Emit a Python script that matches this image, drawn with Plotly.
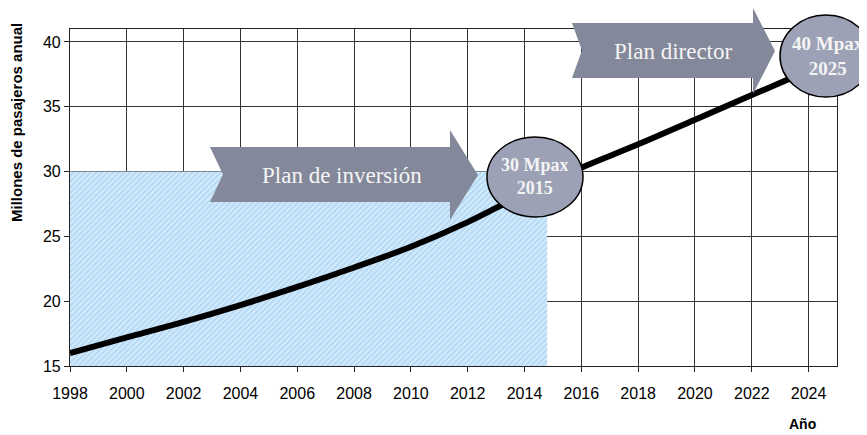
import plotly.graph_objects as go

# ---- data ----
years = [1998, 2000, 2002, 2004, 2006, 2008, 2010, 2012, 2014, 2016, 2018, 2020, 2022, 2024]
passengers = [16.0, 17.2, 18.4, 19.7, 21.1, 22.6, 24.2, 26.1, 28.3, 30.3, 32.1, 34.0, 35.9, 37.8]

area_x = [1998, 1998, 2014.8, 2014.8]
area_y = [15, 30, 30, 15]

x_ticks = list(range(1998, 2025, 2))
y_ticks = [15, 20, 25, 30, 35, 40]

W, H = 867, 435
# plot area in window pixels (page has an 8px body offset)
PL, PR, PT, PB = 70, 837, 29, 366
OFF = 8


def px(x):
    return (x - PL) / (PR - PL)


def py(y):
    return (PB - y) / (PB - PT)


def path(points):
    return "M " + " L ".join(f"{px(a):.4f},{py(b):.4f}" for a, b in points) + " Z"


fig = go.Figure()

fig.add_trace(go.Scatter(
    x=area_x, y=area_y, fill="toself", mode="none",
    fillcolor="#c4e2f8",
    fillpattern=dict(shape="/", fgcolor="#79bbec", bgcolor="#d2e9fa", size=4, solidity=0.3),
    hoverinfo="skip", showlegend=False))

fig.add_trace(go.Scatter(
    x=years, y=passengers, mode="lines",
    line=dict(color="black", width=6, shape="spline"),
    showlegend=False))

arrow_color = "#83889a"
ell_color = "#9ca1b5"

shapes = [
    dict(type="path", xref="paper", yref="paper", layer="above",
         path=path([(210, 147), (450, 147), (450, 130), (478, 175), (450, 220),
                    (450, 202), (210, 202), (223, 174.5)]),
         fillcolor=arrow_color, line=dict(width=0)),
    dict(type="path", xref="paper", yref="paper", layer="above",
         path=path([(572, 23), (753, 23), (753, 8), (775, 51), (753, 94),
                    (753, 78), (572, 78), (582, 50.5)]),
         fillcolor=arrow_color, line=dict(width=0)),
    dict(type="circle", xref="paper", yref="paper", layer="above",
         x0=px(487), x1=px(583), y0=py(217), y1=py(137),
         fillcolor=ell_color, line=dict(color="black", width=1.5)),
    dict(type="circle", xref="paper", yref="paper", layer="above",
         x0=px(780), x1=px(872), y0=py(97), y1=py(15),
         fillcolor=ell_color, line=dict(color="black", width=1.5)),
]

serif = "Liberation Serif"
txt = "#f4f4f4"


def ann(x, y, text, font, **kw):
    d = dict(x=px(x), y=py(y), xref="paper", yref="paper", text=text,
             showarrow=False, xanchor="center", yanchor="middle", font=font)
    d.update(kw)
    return d


annotations = [
    ann(342, 175, "Plan de inversión", dict(family=serif, size=23, color=txt)),
    ann(673, 51, "Plan director", dict(family=serif, size=23, color=txt)),
    ann(535, 177, "<b>30 Mpax<br>2015</b>", dict(family=serif, size=18, color=txt)),
    ann(828, 56, "<b>40 Mpax<br>2025</b>", dict(family=serif, size=19, color=txt)),
    ann(17, 123, "<b>Millones de pasajeros anual</b>",
        dict(family="Liberation Sans", size=15, color="black"), textangle=-90),
    ann(802, 424, "<b>Año</b>", dict(family="Liberation Sans", size=14, color="black")),
]

axis_common = dict(showline=True, linecolor="#222", linewidth=1.2, mirror=True,
                   showgrid=True, gridcolor="#333", gridwidth=1,
                   ticks="outside", ticklen=5, tickcolor="#222", zeroline=False,
                   tickfont=dict(family="Liberation Sans", size=16, color="black"))

fig.update_layout(
    width=W, height=H,
    margin=dict(l=PL - OFF, r=W - (PR - OFF), t=PT - OFF, b=H - (PB - OFF)),
    paper_bgcolor="white", plot_bgcolor="white",
    xaxis=dict(range=[1998, 2025], tickvals=x_ticks, ticklabelstandoff=8, **axis_common),
    yaxis=dict(range=[15, 41], tickvals=y_ticks, **axis_common),
    shapes=shapes, annotations=annotations,
)

fig.write_html("out.html")
